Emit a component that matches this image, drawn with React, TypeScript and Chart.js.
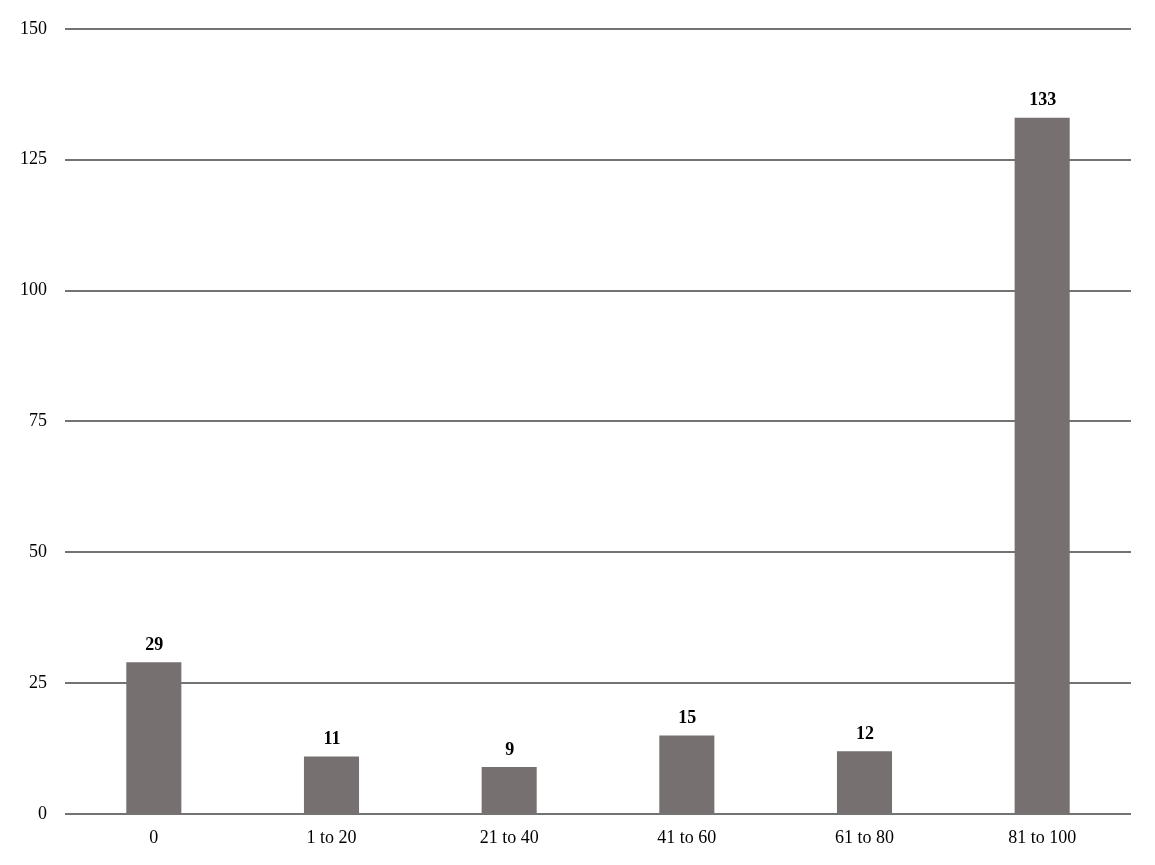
import React, { useEffect, useRef } from "react";
import { Chart, registerables } from "chart.js";

Chart.register(...registerables);

const categories = ["0", "1 to 20", "21 to 40", "41 to 60", "61 to 80", "81 to 100"];
const counts = [29, 11, 9, 15, 12, 133];
const yTicks = [0, 25, 50, 75, 100, 125, 150];

const FONT = "'Liberation Serif', 'Times New Roman', serif";

const valueLabels = {
  id: "valueLabels",
  afterDatasetsDraw(chart: any) {
    const ctx = chart.ctx;
    const meta = chart.getDatasetMeta(0);
    ctx.save();
    ctx.font = `bold 18px ${FONT}`;
    ctx.fillStyle = "#000";
    ctx.textAlign = "center";
    ctx.textBaseline = "middle";
    meta.data.forEach((bar: any, i: number) => {
      ctx.fillText(String(counts[i]), bar.x + 0.5, bar.y - 17);
    });
    ctx.restore();
  },
};

export default function App() {
  const ref = useRef<HTMLCanvasElement>(null);
  useEffect(() => {
    const chart = new Chart(ref.current!, {
      type: "bar",
      data: {
        labels: categories,
        datasets: [
          {
            data: counts,
            backgroundColor: "#767170",
            borderWidth: 0,
            barPercentage: 0.31,
            categoryPercentage: 1,
          },
        ],
      },
      options: {
        animation: false,
        responsive: true,
        maintainAspectRatio: false,
        layout: { padding: { left: 0, right: 24, top: 27, bottom: 0 } },
        plugins: { legend: { display: false }, tooltip: { enabled: false } },
        scales: {
          x: {
            grid: { display: false, drawTicks: false },
            border: { display: false },
            ticks: { color: "#000", font: { family: FONT, size: 18 }, padding: 13 },
            afterFit: (s: any) => {
              s.height = 51;
            },
          },
          y: {
            min: 0,
            max: 150,
            afterBuildTicks: (s: any) => {
              s.ticks = yTicks.map((v) => ({ value: v }));
            },
            grid: { color: "#737373", lineWidth: 2, drawTicks: false },
            border: { display: false },
            ticks: { color: "#000", font: { family: FONT, size: 18 }, padding: 18 },
            afterFit: (s: any) => {
              s.width = 65;
            },
          },
        },
      },
      plugins: [valueLabels],
    });
    return () => chart.destroy();
  }, []);
  return (
    <div style={{ position: "fixed", left: 0, top: 0, width: 1155, height: 865, background: "#fff" }}>
      <canvas ref={ref} />
    </div>
  );
}
